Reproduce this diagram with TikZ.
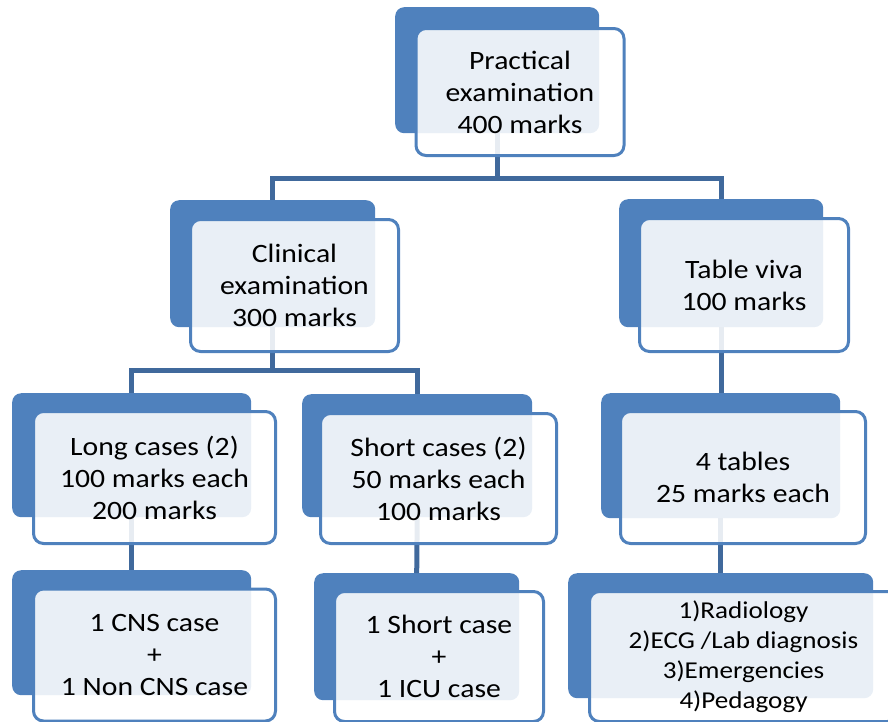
\documentclass[tikz,border=0pt]{standalone}
\usepackage{fontspec}
\setmainfont{Carlito}[FakeStretch=1.12]
\definecolor{boxblue}{HTML}{4F81BD}
\definecolor{linkblue}{HTML}{40699C}
\tikzset{
  back/.style={fill=boxblue, rounded corners=9pt, anchor=north west, inner sep=0pt},
  front/.style={draw=boxblue, line width=3pt, fill=white, fill opacity=0.88, text opacity=1,
    rounded corners=10pt, inner sep=0pt, align=center, font=\fontsize{26.5}{32}\selectfont},
  link/.style={draw=linkblue, line width=5pt},
}

\begin{document}
\begin{tikzpicture}[x=1pt,y=1pt]
      \clip (0,0) rectangle (888,-721);
      % dark boxes behind
      \node[back, minimum width=204, minimum height=126] (pracB)  at (395,-7)   {};
      \node[back, minimum width=205, minimum height=127] (clinB)  at (170,-200) {};
      \node[back, minimum width=204, minimum height=128] (vivaB)  at (619,-199) {};
      \node[back, minimum width=239, minimum height=124] (longB)  at (12,-393)  {};
      \node[back, minimum width=230, minimum height=123] (shortB) at (302,-394) {};
      \node[back, minimum width=239, minimum height=125] (tabB)   at (601,-393) {};
      \node[back, minimum width=239, minimum height=125] (cnsB)   at (12,-570)  {};
      \node[back, minimum width=205, minimum height=127] (scB)    at (314,-573) {};
      \node[back, minimum width=305, minimum height=125] (listB)  at (568,-573) {};
      % connectors
      \coordinate (barone) at (0,-178);
      \coordinate (bartwo) at (0,-370);
      \draw[link] (pracB.south) -- (pracB.south |- barone) -| (clinB.north);
      \draw[link] (pracB.south |- barone) -| (vivaB.north);
      \draw[link] (clinB.south) -- (clinB.south |- bartwo) -| (longB.north);
      \draw[link] (clinB.south |- bartwo) -| (shortB.north);
      \draw[link] (vivaB.south) -- (vivaB.south |- tabB.north);
      \draw[link] (longB.south) -- (cnsB.north);
      \draw[link] (shortB.south) -- (scB.north);
      \draw[link] (tabB.south) -- (listB.north);
      % front boxes with the texts
      \node[front, minimum width=208, minimum height=127] (pracF)  at (520,-92)     {Practical\\examination\\400 marks};
      \node[front, minimum width=208, minimum height=132] (clinF)  at (294.5,-285.5) {Clinical\\examination\\300 marks};
      \node[front, minimum width=209, minimum height=133] (vivaF)  at (744,-285)    {Table viva\\100 marks};
      \node[front, minimum width=242, minimum height=132] (longF)  at (154.5,-477.5) {Long cases (2)\\100 marks each\\200 marks};
      \node[front, minimum width=236, minimum height=130] (shortF) at (438.5,-478.5) {Short cases (2)\\50 marks each\\100 marks};
      \node[front, minimum width=245, minimum height=132] (tabF)   at (743,-477.5)  {4 tables\\25 marks each};
      \node[front, minimum width=242, minimum height=132] (cnsF)   at (154.5,-655)  {1 CNS case\\+\\1 Non CNS case};
      \node[front, minimum width=209, minimum height=130] (scF)    at (439,-656.5)  {1 Short case\\+\\1 ICU case};
      \node[front, minimum width=308, minimum height=130, font=\fontsize{24.2}{30}\selectfont] (listF) at (743.5,-656.5)
        {1)Radiology\\2)ECG /Lab diagnosis\\3)Emergencies\\4)Pedagogy};
\end{tikzpicture}
\end{document}
